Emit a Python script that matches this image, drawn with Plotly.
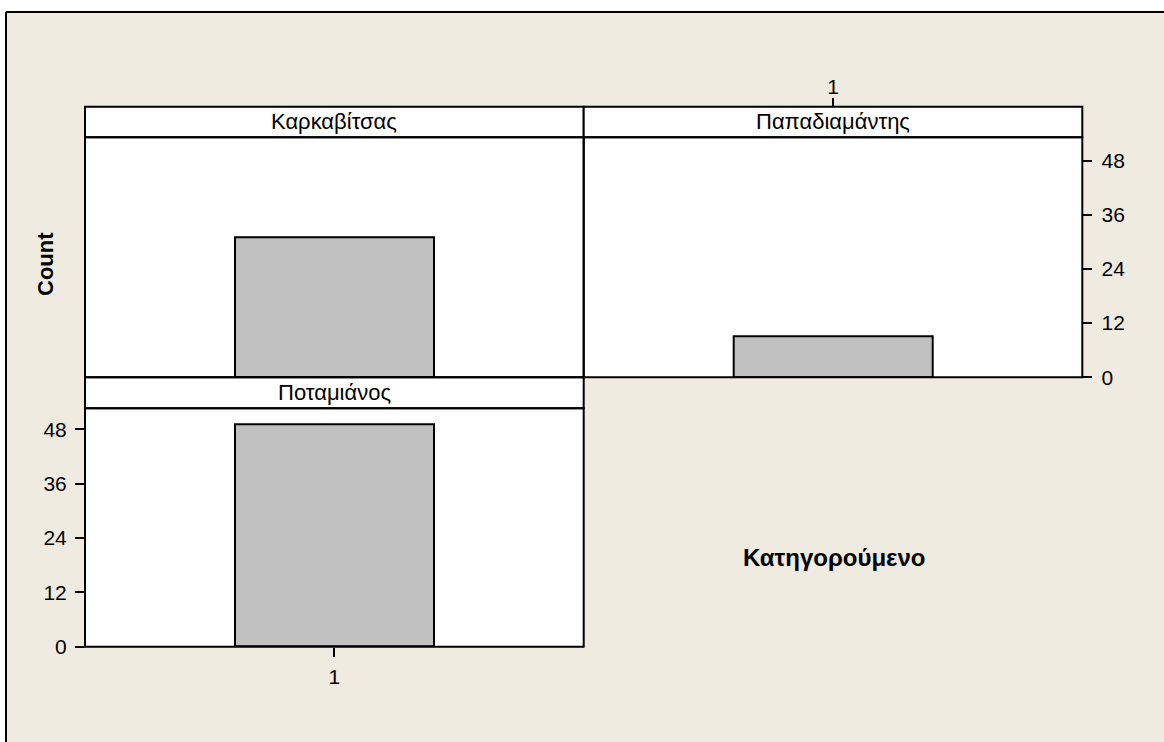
import plotly.graph_objects as go

# ---- data ----
panels = ["Καρκαβίτσας", "Παπαδιαμάντης", "Ποταμιάνος"]
category = ["1"]
counts = [31, 9, 49]
y_ticks = [0, 12, 24, 36, 48]
y_title = "Count"
x_title = "Κατηγορούμενο"

W, H = 1164, 742
BG = "rgb(239,235,224)"
FONT = "Liberation Sans, Arial, sans-serif"


def px(x):
    return x / W


def py(y):
    return 1 - y / H


# panel geometry (pixels)
L, M, R = 85, 583.7, 1082.3
T_STRIP_TOP, T_STRIP_BOT, T_BOT = 106.7, 137.3, 377.2
B_STRIP_TOP, B_STRIP_BOT, B_BOT = 377.3, 408.3, 646.7

fig = go.Figure()

axes = [("x", "y"), ("x2", "y2"), ("x3", "y3")]
for (xa, ya), name, c in zip(axes, panels, counts):
    fig.add_trace(go.Bar(
        x=category, y=[c], xaxis=xa, yaxis=ya, name=name, width=0.4,
        marker=dict(color="#C0C0C0", line=dict(color="black", width=2)),
        showlegend=False, hoverinfo="skip",
    ))

top_range = [0, (T_BOT - T_STRIP_BOT) / 4.51]
bot_range = [0, (B_BOT - B_STRIP_BOT) / 4.529]

common_tick = dict(tickfont=dict(family=FONT, size=21, color="black"),
                   tickcolor="black", tickwidth=2, ticklen=9,
                   showgrid=False, zeroline=False, showline=False,
                   automargin=False)
hidden = dict(showticklabels=False, ticks="", showgrid=False, zeroline=False,
              showline=False, automargin=False)

fig.update_layout(
    width=W, height=H, autosize=False,
    margin=dict(l=0, r=0, t=0, b=0, pad=0, autoexpand=False),
    paper_bgcolor=BG, plot_bgcolor="white",
    bargap=0, showlegend=False,
    font=dict(family=FONT, color="black"),
    xaxis=dict(domain=[px(L), px(M)], anchor="y", type="category",
               range=[-0.5, 0.5], **hidden),
    yaxis=dict(domain=[py(T_BOT), py(T_STRIP_BOT)], anchor="x",
               range=top_range, **hidden),
    xaxis2=dict(domain=[px(M), px(R)], anchor="free", position=py(T_STRIP_TOP),
                side="top", type="category", range=[-0.5, 0.5],
                ticks="outside", tickvals=category, ticktext=category,
                ticklabelstandoff=-5, **common_tick),
    yaxis2=dict(domain=[py(T_BOT), py(T_STRIP_BOT)], anchor="x2", side="right",
                range=top_range, ticks="outside", tickvals=y_ticks,
                ticklabelstandoff=5, **common_tick),
    xaxis3=dict(domain=[px(L), px(M)], anchor="y3", type="category",
                range=[-0.5, 0.5], ticks="outside", tickvals=category,
                ticktext=category, ticklabelstandoff=2, **common_tick),
    yaxis3=dict(domain=[py(B_BOT), py(B_STRIP_BOT)], anchor="x3",
                range=bot_range, ticks="outside", tickvals=y_ticks,
                ticklabelstandoff=4, **common_tick),
)

shapes = []
# white surround outside the (cropped) window frame
shapes.append(dict(type="rect", xref="paper", yref="paper",
                   x0=px(-10), x1=px(6), y0=py(760), y1=py(-10),
                   fillcolor="white", line=dict(width=0), layer="below"))
shapes.append(dict(type="rect", xref="paper", yref="paper",
                   x0=px(-10), x1=px(1180), y0=py(12), y1=py(-10),
                   fillcolor="white", line=dict(width=0), layer="below"))
# window frame lines
shapes.append(dict(type="line", xref="paper", yref="paper",
                   x0=px(6), x1=px(6), y0=py(760), y1=py(12),
                   line=dict(color="black", width=2)))
shapes.append(dict(type="line", xref="paper", yref="paper",
                   x0=px(6), x1=px(1180), y0=py(12), y1=py(12),
                   line=dict(color="black", width=2)))


def rect(x0, y0, x1, y1, fill=None, width=2, color="black"):
    d = dict(type="rect", xref="paper", yref="paper",
             x0=px(x0), x1=px(x1), y0=py(y1), y1=py(y0),
             line=dict(color=color, width=width))
    if fill:
        d["fillcolor"] = fill
    return d


# strips
shapes.append(rect(L, T_STRIP_TOP, M, T_STRIP_BOT, fill="white"))
shapes.append(rect(M, T_STRIP_TOP, R, T_STRIP_BOT, fill="white"))
shapes.append(rect(L, B_STRIP_TOP, M, B_STRIP_BOT, fill="white"))
# panel frames
shapes.append(rect(L, T_STRIP_BOT, M, T_BOT))
shapes.append(rect(M, T_STRIP_BOT, R, T_BOT))
shapes.append(rect(L, B_STRIP_BOT, M, B_BOT))

fig.update_layout(shapes=shapes)

annotations = []
strip_boxes = [(L, M, T_STRIP_TOP, T_STRIP_BOT), (M, R, T_STRIP_TOP, T_STRIP_BOT),
               (L, M, B_STRIP_TOP, B_STRIP_BOT)]
for name, (x0, x1, y0, y1) in zip(panels, strip_boxes):
    annotations.append(dict(text=name, xref="paper", yref="paper",
                            x=px((x0 + x1) / 2), y=py((y0 + y1) / 2),
                            showarrow=False, xanchor="center", yanchor="middle",
                            font=dict(family=FONT, size=22, color="black")))

annotations.append(dict(text="<b>" + y_title + "</b>", xref="paper", yref="paper",
                        x=px(45), y=py(264), textangle=-90, showarrow=False,
                        xanchor="center", yanchor="middle",
                        font=dict(family=FONT, size=22, color="black")))
annotations.append(dict(text="<b>" + x_title + "</b>", xref="paper", yref="paper",
                        x=px(834), y=py(557), showarrow=False,
                        xanchor="center", yanchor="middle",
                        font=dict(family=FONT, size=24, color="black")))
fig.update_layout(annotations=annotations)

fig.write_html(
    "out.html",
    config={"displayModeBar": False},
    post_script="document.documentElement.style.margin='0px';"
                "document.body.style.margin='0px';"
                "document.body.style.overflow='hidden';",
)
